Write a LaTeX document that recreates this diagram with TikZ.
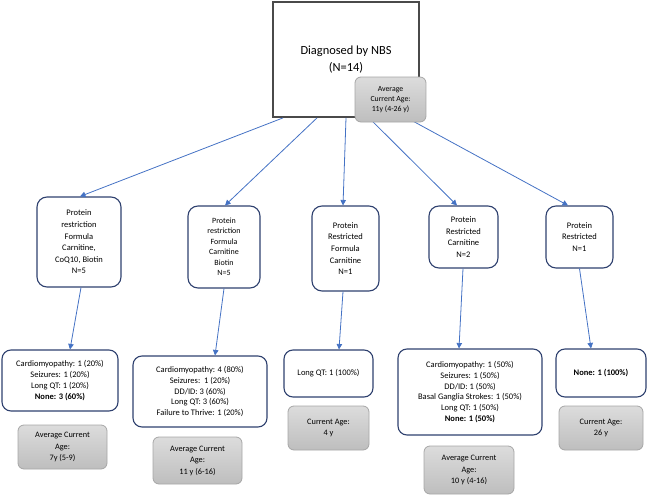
\documentclass[tikz,border=0pt]{standalone}
\usepackage{fontspec}
\setmainfont{Carlito}
\usetikzlibrary{arrows.meta}
\definecolor{arrowblue}{HTML}{4472C4}
\definecolor{boxnavy}{HTML}{2F416F}
\definecolor{agetop}{HTML}{DCDCDC}
\definecolor{agebot}{HTML}{BEBEBE}
\definecolor{ageline}{HTML}{A6A6A6}
\definecolor{topline}{HTML}{4A4A4A}
\begin{document}
\begin{tikzpicture}[x=1pt,y=-1pt,
  topbox/.style={draw=topline, line width=1.8pt, fill=white, align=center, inner sep=0pt,
    font=\fontsize{12.4}{17}\selectfont},
  treat/.style={draw=boxnavy, line width=1.1pt, rounded corners=10pt, fill=white, align=center,
    inner sep=0pt, font=\fontsize{8.5}{11.6}\selectfont},
  outc/.style={draw=boxnavy, line width=1.1pt, rounded corners=9pt, fill=white, align=center,
    inner sep=0pt, font=\fontsize{8.5}{10.9}\selectfont},
  agebox/.style={draw=ageline, line width=0.8pt, rounded corners=6pt, top color=agetop,
    bottom color=agebot, align=center, inner sep=0pt, font=\fontsize{8.3}{11.5}\selectfont},
  arr/.style={draw=arrowblue, line width=0.8pt, -{Triangle[length=5.5pt,width=5.5pt]}}
]
\useasboundingbox (0,0) rectangle (661,495);

\node[topbox, minimum width=146pt, minimum height=115pt] (top) at (346,59.5)
  {Diagnosed by NBS\\(N=14)};

\node[treat, minimum width=84pt, minimum height=90pt] (b1) at (79,242)
  {Protein\\restriction\\Formula\\Carnitine,\\CoQ10, Biotin\\N=5};
\node[treat, minimum width=72pt, minimum height=82pt, font=\fontsize{8}{10.5}\selectfont] (b2) at (224,247)
  {Protein\\restriction\\Formula\\Carnitine\\Biotin\\N=5};
\node[treat, minimum width=67pt, minimum height=85pt] (b3) at (345.5,248.5)
  {Protein\\Restricted\\Formula\\Carnitine\\N=1};
\node[treat, minimum width=69pt, minimum height=62pt] (b4) at (463.5,237)
  {Protein\\Restricted\\Carnitine\\N=2};
\node[treat, minimum width=67pt, minimum height=62pt] (b5) at (579.5,237)
  {Protein\\Restricted\\N=1};

\node[outc, minimum width=116pt, minimum height=61pt] (o1) at (60,380.5)
  {Cardiomyopathy: 1 (20\%)\\Seizures: 1 (20\%)\\Long QT: 1 (20\%)\\\textbf{None: 3 (60\%)}};
\node[outc, minimum width=134pt, minimum height=71pt] (o2) at (200,391.5)
  {Cardiomyopathy: 4 (80\%)\\Seizures:\ \ 1 (20\%)\\DD/ID: 3 (60\%)\\Long QT: 3 (60\%)\\Failure to Thrive: 1 (20\%)};
\node[outc, minimum width=89pt, minimum height=47pt] (o3) at (328.5,373.5)
  {Long QT: 1 (100\%)};
\node[outc, minimum width=144pt, minimum height=86pt] (o4) at (470,392)
  {Cardiomyopathy: 1 (50\%)\\Seizures: 1 (50\%)\\DD/ID: 1 (50\%)\\Basal Ganglia Strokes: 1 (50\%)\\Long QT: 1 (50\%)\\\textbf{None: 1 (50\%)}};
\node[outc, minimum width=90pt, minimum height=48pt] (o5) at (601,373)
  {\textbf{None: 1 (100\%)}};

\node[agebox, minimum width=89pt, minimum height=44pt] (g1) at (62.5,447)
  {Average Current\\Age:\\7y (5-9)};
\node[agebox, minimum width=89pt, minimum height=47pt] (g2) at (197.5,460.5)
  {Average Current\\Age:\\11 y (6-16)};
\node[agebox, minimum width=81pt, minimum height=44pt] (g3) at (328.5,428)
  {Current Age:\\4 y};
\node[agebox, minimum width=90pt, minimum height=48pt] (g4) at (469,470)
  {Average Current\\Age:\\10 y (4-16)};
\node[agebox, minimum width=84pt, minimum height=44pt] (g5) at (601,428)
  {Current Age:\\26 y};

% arrows from top box
\draw[arr] ([xshift=-63pt]top.south) -- ([xshift=1pt]b1.north);
\draw[arr] ([xshift=-29pt]top.south) -- ([xshift=1pt]b2.north);
\draw[arr] (top.south) -- ([xshift=-2.5pt]b3.north);
\draw[arr] ([xshift=23pt]top.south) -- ([xshift=-6.5pt]b4.north);
\draw[arr] ([xshift=61pt]top.south) -- ([xshift=-11.5pt]b5.north);

% arrows to outcomes
\draw[arr] ([xshift=2pt]b1.south) -- ([xshift=10pt]o1.north);
\draw[arr] (b2.south) -- ([xshift=15pt]o2.north);
\draw[arr] ([xshift=-2.5pt]b3.south) -- ([xshift=10.5pt]o3.north);
\draw[arr] ([xshift=-0.5pt]b4.south) -- ([xshift=-11pt]o4.north);
\draw[arr] (b5.south) -- ([xshift=-10pt]o5.north);

\node[agebox, minimum width=71pt, minimum height=45pt, font=\fontsize{7.8}{10}\selectfont] (topage) at (390.5,99.5)
  {Average\\Current Age:\\11y (4-26 y)};
\end{tikzpicture}
\end{document}
